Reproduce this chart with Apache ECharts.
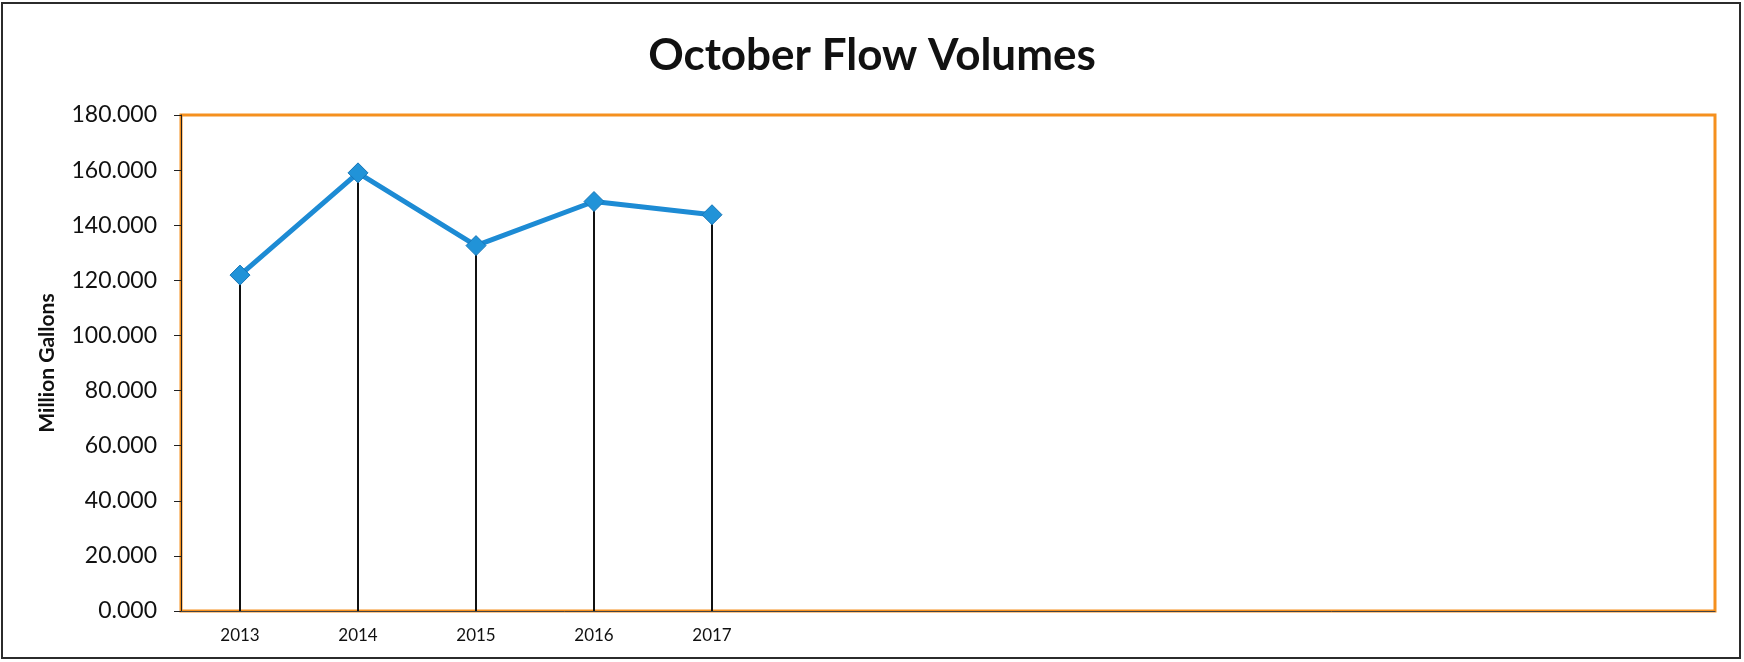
<!DOCTYPE html>
<html>
<head>
<meta charset="UTF-8">
<title>October Flow Volumes</title>
<script type="text/javascript" src="https://cdn.jsdelivr.net/npm/echarts@6/dist/echarts.min.js"></script>
<style>
	html, body { margin: 0; padding: 0; background: #fff; }
	#container { width: 1744px; height: 662px; }
</style>
</head>
<body>
	<div id="container"></div>
<script type="text/javascript">
	// x axis slots (chart leaves room for future years)
	var years = ['2013', '2014', '2015', '2016', '2017', '2018', '2019', '2020', '2021', '2022', '2023', '2024', '2025'];
	// only these years carry a label
	var labeledYears = ['2013', '2014', '2015', '2016', '2017'];
	// October flow, million gallons
	var flowVolumes = [121.9, 159.0, 132.6, 148.6, 143.8];
	var yTicks = { min: 0, max: 180, interval: 20 };

	var dom = document.getElementById("container");
	var myChart = echarts.init(dom);
	var option = {
		backgroundColor: '#fff',
		textStyle: { fontFamily: 'Lato' },
		title: {
			text: 'October Flow Volumes',
			left: 'center',
			top: 29,
			textStyle: { fontFamily: 'Lato', fontSize: 44, fontWeight: 'bold', color: '#111' }
		},
		// outer chart frame
		graphic: [{
			type: 'rect',
			shape: { x: 2, y: 3, width: 1738, height: 655 },
			style: { fill: 'none', stroke: '#2b2b2b', lineWidth: 2 },
			silent: true
		}],
		grid: {
			left: 181,
			right: 29,
			top: 115,
			bottom: 51,
			show: true,
			borderColor: '#f5901e',
			borderWidth: 3
		},
		xAxis: {
			type: 'category',
			data: years,
			boundaryGap: true,
			axisLine: { show: true, lineStyle: { color: '#444', width: 1 } },
			axisTick: { show: false },
			axisLabel: {
				interval: 0,
				margin: 16,
				fontSize: 17,
				color: '#111',
				formatter: function (value) {
					return labeledYears.indexOf(value) >= 0 ? value : '';
				}
			},
			splitLine: { show: false }
		},
		yAxis: {
			type: 'value',
			min: yTicks.min,
			max: yTicks.max,
			interval: yTicks.interval,
			name: 'Million Gallons',
			nameLocation: 'middle',
			nameRotate: 90,
			nameGap: 123,
			nameTextStyle: { fontFamily: 'Lato', fontSize: 21, fontWeight: 'bold', color: '#111' },
			axisLine: { show: true, lineStyle: { color: '#222', width: 1 } },
			axisTick: { show: true, length: 7, lineStyle: { color: '#222' } },
			axisLabel: {
				margin: 24,
				fontSize: 23,
				color: '#111',
				formatter: function (v) { return v.toFixed(3); }
			},
			splitLine: { show: false }
		},
		series: [
			{
				// drop lines from each point to the axis
				name: 'drop',
				type: 'bar',
				data: flowVolumes,
				barWidth: 2,
				itemStyle: { color: '#111' },
				silent: true,
				z: 1
			},
			{
				name: 'October Flow',
				type: 'line',
				data: flowVolumes,
				symbol: 'diamond',
				symbolSize: 20,
				lineStyle: { color: '#1d8bd4', width: 5 },
				itemStyle: { color: '#2193d8', borderColor: '#1877b8', borderWidth: 1 },
				z: 3
			}
		]
	};
	myChart.setOption(option);
</script>
</body>
</html>
